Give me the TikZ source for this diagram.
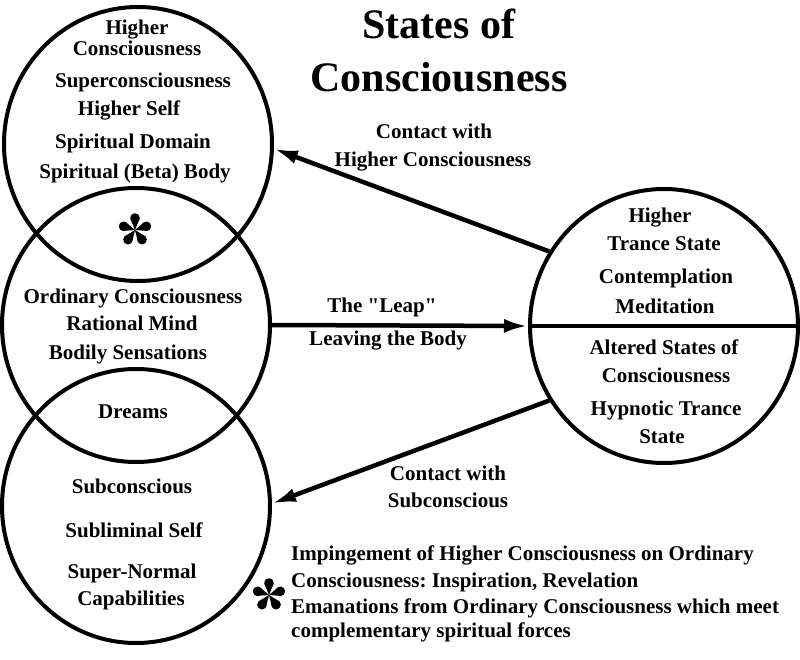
\documentclass[tikz,border=0pt]{standalone}
\usepackage{fontspec}
\setmainfont{Liberation Serif}
\usetikzlibrary{shapes.geometric,arrows.meta}
\frenchspacing

\tikzset{
  state/.style={draw, ellipse, line width=4pt, minimum width=268pt, minimum height=274pt, inner sep=0pt},
  txt/.style={font=\fontsize{21}{21}\selectfont\bfseries, inner sep=0pt, text height=15pt, text depth=4pt},
  link/.style={line width=4.5pt, -{Latex[length=24pt,width=14pt]}},
  flower/.pic={
    \begin{scope}[yscale=-1]
      \foreach \a in {18,90,162,234,306} {
        \fill (0,0) -- ([shift={(\a:11)}]\a+90:4.5) arc[start angle=\a+90, end angle=\a-90, radius=4.5] -- cycle;
        \fill (\a:12) circle (4.8);
      }
    \end{scope}
  }
}

\begin{document}
\begin{tikzpicture}[x=1pt,y=-1pt]
	\useasboundingbox (0,0) rectangle (800,660);

	% the four states
	\node[state] (higher) at (138,144) {};
	\node[state] (ordinary) at (136,325) {};
	\node[state] (sub) at (136,506) {};
	\node[state] (trance) at (664,326) {};

	\node[font=\fontsize{42}{53}\selectfont\bfseries, align=center] (title) at (439,50) {States of\\Consciousness};

	\foreach \x/\y/\t [count=\i] in {137/29/Higher, 137/50/Consciousness, 143/82/Superconsciousness,
		129/110/Higher Self, 133/143/Spiritual Domain, 135/173/{Spiritual (Beta) Body}}
		\node[txt] (hc\i) at (\x,\y) {\t};
	\foreach \x/\y/\t [count=\i] in {133/298/Ordinary Consciousness, 132/325/Rational Mind,
		128/354/Bodily Sensations, 133/413/Dreams}
		\node[txt] (oc\i) at (\x,\y) {\t};
	\foreach \x/\y/\t [count=\i] in {132/488/Subconscious, 134/532/Subliminal Self,
		132/573/Super-Normal, 131/600/Capabilities}
		\node[txt] (sc\i) at (\x,\y) {\t};
	\foreach \x/\y/\t [count=\i] in {660/217/Higher, 664/245/Trance State, 666/278/Contemplation,
		665/308/Meditation, 664/349/Altered States of, 666/377/Consciousness,
		666/410/Hypnotic Trance, 662/438/State}
		\node[txt] (ts\i) at (\x,\y) {\t};

	% arrow labels
	\foreach \x/\y/\t [count=\i] in {434/133/Contact with, 433/161/Higher Consciousness,
		382/307/{The \textquotedbl Leap\textquotedbl}, 388/340/Leaving the Body, 448/475/Contact with, 448/502/Subconscious}
		\node[txt] (lb\i) at (\x,\y) {\t};

	\draw[link] (trance.147) -- (higher.-2);
	\draw[link] (ordinary.east) -- (trance.west);
	\draw[line width=4.5pt] (trance.west) -- (trance.east);
	\draw[link] (trance.213) -- (sub.1);

	% the two asterisks
	\pic (star1) at (135,230) {flower};
	\pic (star2) at (269,595) {flower};

	\foreach \y/\t [count=\i] in {555/Impingement of Higher Consciousness on Ordinary,
		582/{Consciousness: Inspiration, Revelation},
		608/Emanations from Ordinary Consciousness which meet,
		632/complementary spiritual forces}
		\node[txt, anchor=west] (note\i) at (291,\y) {\t};
\end{tikzpicture}
\end{document}
